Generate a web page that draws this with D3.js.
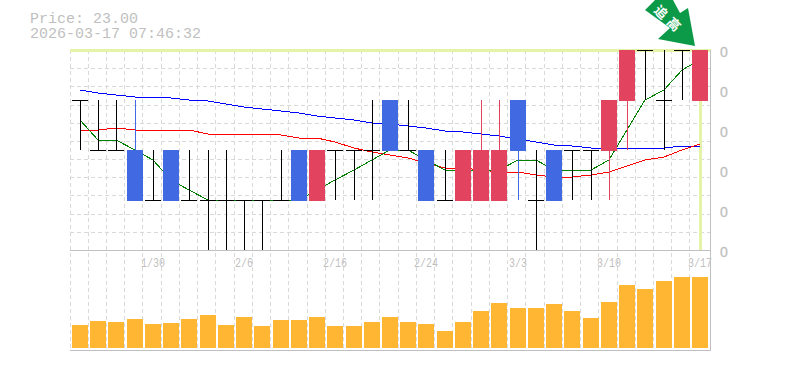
<!DOCTYPE html>
<html><head><meta charset="utf-8">
<style>html,body{margin:0;padding:0;background:#fff}svg{display:block}text{font-family:"Liberation Mono",monospace}</style>
<script src="https://cdn.jsdelivr.net/npm/d3@7"></script></head><body>
<svg id="c" width="785" height="370"></svg>
<script>
const dates=["1/26","1/27","1/28","1/29","1/30","2/2","2/3","2/4","2/5","2/6","2/9","2/10","2/11","2/12","2/16","2/17","2/18","2/19","2/23","2/24","2/25","2/26","2/27","3/2","3/3","3/4","3/5","3/6","3/9","3/10","3/11","3/12","3/13","3/16","3/17"];
const opens=[22.99,22.98,22.98,22.98,22.97,22.98,22.97,22.97,22.97,22.97,22.97,22.97,22.98,22.97,22.98,22.98,22.98,22.99,22.98,22.98,22.97,22.97,22.97,22.97,22.99,22.97,22.98,22.98,22.98,22.98,22.99,23.00,22.99,23.00,22.99];
const closes=[22.99,22.98,22.98,22.97,22.97,22.97,22.97,22.97,22.97,22.97,22.97,22.97,22.97,22.98,22.98,22.98,22.98,22.98,22.98,22.97,22.97,22.98,22.98,22.98,22.98,22.97,22.97,22.98,22.98,22.99,23.00,23.00,22.99,23.00,23.00];
const highs=[22.99,22.99,22.99,22.99,22.98,22.98,22.98,22.98,22.98,22.97,22.97,22.98,22.98,22.98,22.98,22.98,22.99,22.99,22.99,22.98,22.98,22.98,22.99,22.99,22.99,22.98,22.98,22.98,22.98,22.99,23.00,23.00,23.00,23.00,23.00];
const lows=[22.98,22.98,22.98,22.97,22.97,22.97,22.97,22.96,22.96,22.96,22.96,22.97,22.97,22.97,22.97,22.97,22.97,22.98,22.98,22.97,22.97,22.97,22.97,22.97,22.97,22.96,22.97,22.97,22.97,22.97,22.98,22.99,22.98,22.99,22.99];
const ma5=[22.986,22.982,22.982,22.98,22.978,22.974,22.972,22.97,22.97,22.97,22.97,22.97,22.97,22.972,22.974,22.976,22.978,22.98,22.98,22.978,22.976,22.976,22.976,22.976,22.978,22.978,22.976,22.976,22.976,22.978,22.984,22.99,22.992,22.996,22.998];
const ma20=[22.984,22.984,22.9844,22.984,22.984,22.984,22.984,22.9832,22.9832,22.9832,22.9832,22.983,22.9824,22.9824,22.9816,22.9804,22.9796,22.979,22.9784,22.9774,22.9764,22.9764,22.976,22.9756,22.9756,22.975,22.9746,22.9746,22.975,22.9756,22.9768,22.978,22.9786,22.98,22.9812];
const ma60=[22.992,22.9914,22.991,22.9906,22.9906,22.9904,22.99,22.9898,22.9892,22.9886,22.9882,22.9878,22.9874,22.9868,22.9864,22.986,22.9854,22.9852,22.9848,22.9844,22.9838,22.9836,22.9832,22.9828,22.9822,22.9816,22.981,22.9808,22.9804,22.9804,22.9804,22.9804,22.9804,22.9808,22.9808];
const volumes=[23,27,26,29,24,25,29,33,23,31,22,28,28,31,22,22,26,31,26,24,17,26,37,45,40,40,44,37,30,46,63,59,67,71,71];
const priceTicks=[22.96,22.968,22.976,22.984,22.992,23.00];
const dateTicks=["1/30","2/6","2/16","2/24","3/3","3/10","3/17"];
const title=["Price: 23.00","2026-03-17 07:46:32"];
const badge=["追","高"];

const svg=d3.select("#c").attr("shape-rendering","crispEdges");
const x=d3.scaleBand().domain(dates).range([70,70+18.235*dates.length]);
const left=d=>Math.round(x(d));
const y=d3.scaleLinear().domain([22.96,23.00]).range([250,50]);
const yv=d3.scaleLinear().domain([0,98]).range([348,250]);
const gridC="#d9d9d9",frameC="#c0c0c0",txtC="#bfbfbf",lime="#e4f3a8";
const up="#e2445f",down="#4169e1";
const hLevels=d3.range(0,12).map(i=>22.96+i*0.04/11);

// grid
svg.append("g").selectAll("line").data(dates).join("line")
 .attr("x1",d=>Math.floor(x(d))+.5).attr("x2",d=>Math.floor(x(d))+.5).attr("y1",50).attr("y2",350)
 .attr("stroke",gridC).attr("stroke-dasharray","4 3");
svg.append("g").selectAll("line").data(hLevels).join("line")
 .attr("x1",70).attr("x2",710).attr("y1",d=>Math.round(y(d))+.5).attr("y2",d=>Math.round(y(d))+.5)
 .attr("stroke",gridC).attr("stroke-dasharray","4 3");

// last price crosshair
const lastD=dates[dates.length-1];
svg.append("rect").attr("x",70).attr("width",641).attr("y",y(23)-1).attr("height",3).attr("fill",lime);
svg.append("rect").attr("x",left(lastD)+9).attr("width",3).attr("y",y(23)).attr("height",200).attr("fill",lime);

// frame
svg.append("rect").attr("x",70).attr("y",250).attr("width",640).attr("height",1).attr("fill",frameC);
svg.append("rect").attr("x",70).attr("y",350).attr("width",641).attr("height",1).attr("fill",frameC);
svg.append("rect").attr("x",710).attr("y",50).attr("width",1).attr("height",301).attr("fill",frameC);

// moving averages
const mkLine=a=>d3.line().x((d,i)=>left(dates[i])+10).y(d=>y(d))(a);
[[ma60,"#0000ff"],[ma20,"#ff0000"],[ma5,"#008000"]].forEach(([a,c])=>{
  svg.append("path").attr("d",mkLine(a)).attr("fill","none").attr("stroke",c).attr("stroke-width",1);
});

// candles
const colour=i=>closes[i]>opens[i]?up:closes[i]<opens[i]?down:"#000";
const g=svg.append("g");
dates.forEach((d,i)=>{
  const l=left(d)+2,c=colour(i);
  g.append("rect").attr("x",l+8).attr("width",1).attr("y",y(highs[i])).attr("height",y(lows[i])-y(highs[i])).attr("fill",c);
  if(opens[i]===closes[i]){
    g.append("rect").attr("x",l).attr("width",16).attr("y",y(closes[i])).attr("height",1).attr("fill",c);
  } else {
    const t=y(Math.max(opens[i],closes[i])),b=y(Math.min(opens[i],closes[i]));
    g.append("rect").attr("x",l).attr("width",16).attr("y",t).attr("height",b-t+1).attr("fill",c);
  }
});

// volume
svg.append("g").selectAll("rect").data(volumes).join("rect")
 .attr("x",(d,i)=>left(dates[i])+2).attr("width",16)
 .attr("y",d=>yv(d)).attr("height",d=>yv(0)-yv(d)).attr("fill","#ffb733");

// texts
svg.append("g").selectAll("text").data(title).join("text")
 .attr("x",30).attr("y",(d,i)=>23+i*15).attr("font-size",15).attr("fill",txtC).text(d=>d);
svg.append("g").selectAll("text").data(dateTicks).join("text")
 .attr("x",d=>left(d)+10-d.length*3).attr("y",267).attr("font-size",12)
 .attr("textLength",d=>d.length*6).attr("lengthAdjust","spacingAndGlyphs")
 .attr("fill",txtC).text(d=>d);
svg.append("g").selectAll("text").data(priceTicks).join("text")
 .attr("x",720).attr("y",d=>y(d)+7).attr("font-size",14)
 .attr("style",'font-family:"Liberation Sans"').attr("stroke",txtC).attr("stroke-width",.3)
 .attr("fill",txtC).text("0");

// green arrow badge
svg.append("polygon")
 .attr("points",[[645,10],[655,0],[673,0],[680,13],[688,8],[695,46],[658,39],[670,28]].map(p=>p.join(",")).join(" "))
 .attr("fill","#0c9a48").attr("shape-rendering","auto");
const badgePos=[[661,12],[674,24]];
svg.append("g").selectAll("text").data(badge).join("text")
 .attr("transform",(d,i)=>`translate(${badgePos[i][0]},${badgePos[i][1]}) rotate(45)`)
 .attr("text-anchor","middle").attr("dy","0.38em").attr("font-size",13).attr("font-weight",700)
 .attr("style",'font-family:"Noto Sans CJK SC"').attr("fill","#fff").text(d=>d);
</script></body></html>
